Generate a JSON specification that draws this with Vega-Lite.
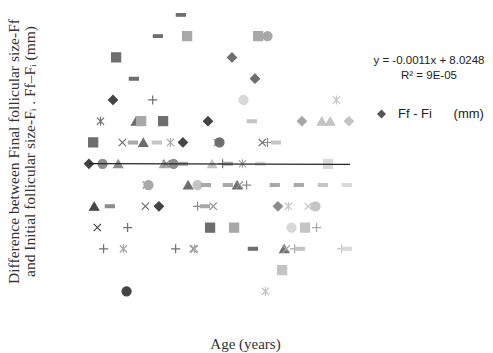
{
  "$schema": "https://vega.github.io/schema/vega-lite/v6.json",
  "width": 340,
  "height": 302,
  "autosize": "none",
  "padding": {"left": 75, "top": 0, "right": 78, "bottom": 51},
  "background": "white",
  "config": {
    "view": {"stroke": null},
    "axis": {"domain": false, "ticks": false, "labels": false, "grid": false}
  },
  "layer": [
    {
      "data": {
        "values": [
          {"age": 28.8, "diff": 15, "m": "dash", "s": "s2"},
          {"age": 26.6, "diff": 14, "m": "dash", "s": "s2"},
          {"age": 29.4, "diff": 14, "m": "square", "s": "s4"},
          {"age": 36.2, "diff": 14, "m": "square", "s": "s4"},
          {"age": 37.1, "diff": 14, "m": "circle", "s": "s4"},
          {"age": 22.6, "diff": 13, "m": "square", "s": "s2"},
          {"age": 33.7, "diff": 13, "m": "diamond", "s": "s2"},
          {"age": 24.3, "diff": 12, "m": "dash", "s": "s2"},
          {"age": 35.9, "diff": 12, "m": "diamond", "s": "s2"},
          {"age": 22.3, "diff": 11, "m": "diamond", "s": "s1"},
          {"age": 26.1, "diff": 11, "m": "plus", "s": "s2"},
          {"age": 34.8, "diff": 11, "m": "circle", "s": "s6"},
          {"age": 43.7, "diff": 11, "m": "star", "s": "s5"},
          {"age": 21.1, "diff": 10, "m": "star", "s": "s2"},
          {"age": 24.5, "diff": 10, "m": "triangle", "s": "s2"},
          {"age": 25.0, "diff": 10, "m": "square", "s": "s4"},
          {"age": 27.1, "diff": 10, "m": "square", "s": "s2"},
          {"age": 31.4, "diff": 10, "m": "diamond", "s": "s1"},
          {"age": 35.6, "diff": 10, "m": "dash", "s": "s5"},
          {"age": 40.4, "diff": 10, "m": "diamond", "s": "s4"},
          {"age": 42.3, "diff": 10, "m": "triangle", "s": "s5"},
          {"age": 43.1, "diff": 10, "m": "triangle", "s": "s5"},
          {"age": 44.9, "diff": 10, "m": "diamond", "s": "s5"},
          {"age": 20.4, "diff": 9, "m": "square", "s": "s2"},
          {"age": 23.2, "diff": 9, "m": "x", "s": "s2"},
          {"age": 24.2, "diff": 9, "m": "dash", "s": "s4"},
          {"age": 25.2, "diff": 9, "m": "triangle", "s": "s2"},
          {"age": 26.5, "diff": 9, "m": "dash", "s": "s5"},
          {"age": 27.8, "diff": 9, "m": "star", "s": "s4"},
          {"age": 29.0, "diff": 9, "m": "diamond", "s": "s1"},
          {"age": 32.3, "diff": 9, "m": "x", "s": "s3"},
          {"age": 32.5, "diff": 9, "m": "circle", "s": "s2"},
          {"age": 36.6, "diff": 9, "m": "x", "s": "s2"},
          {"age": 37.1, "diff": 9, "m": "plus", "s": "s3"},
          {"age": 37.9, "diff": 9, "m": "dash", "s": "s5"},
          {"age": 20.0, "diff": 8, "m": "diamond", "s": "s1"},
          {"age": 21.3, "diff": 8, "m": "circle", "s": "s3"},
          {"age": 22.8, "diff": 8, "m": "triangle", "s": "s3"},
          {"age": 27.2, "diff": 8, "m": "triangle", "s": "s4"},
          {"age": 27.4, "diff": 8, "m": "x", "s": "s3"},
          {"age": 28.1, "diff": 8, "m": "circle", "s": "s3"},
          {"age": 29.0, "diff": 8, "m": "dash", "s": "s4"},
          {"age": 31.8, "diff": 8, "m": "triangle", "s": "s5"},
          {"age": 32.8, "diff": 8, "m": "plus", "s": "s2"},
          {"age": 33.3, "diff": 8, "m": "dash", "s": "s4"},
          {"age": 34.7, "diff": 8, "m": "star", "s": "s4"},
          {"age": 36.4, "diff": 8, "m": "dash", "s": "s6"},
          {"age": 42.9, "diff": 8, "m": "square", "s": "s6"},
          {"age": 25.5, "diff": 7, "m": "x", "s": "s3"},
          {"age": 25.7, "diff": 7, "m": "circle", "s": "s4"},
          {"age": 29.5, "diff": 7, "m": "triangle", "s": "s2"},
          {"age": 30.4, "diff": 7, "m": "circle", "s": "s5"},
          {"age": 31.2, "diff": 7, "m": "dash", "s": "s4"},
          {"age": 33.3, "diff": 7, "m": "dash", "s": "s4"},
          {"age": 34.2, "diff": 7, "m": "triangle", "s": "s2"},
          {"age": 34.4, "diff": 7, "m": "x", "s": "s3"},
          {"age": 35.1, "diff": 7, "m": "plus", "s": "s3"},
          {"age": 37.8, "diff": 7, "m": "dash", "s": "s4"},
          {"age": 40.1, "diff": 7, "m": "dash", "s": "s4"},
          {"age": 42.4, "diff": 7, "m": "dash", "s": "s5"},
          {"age": 44.7, "diff": 7, "m": "dash", "s": "s6"},
          {"age": 20.5, "diff": 6, "m": "triangle", "s": "s1"},
          {"age": 22.0, "diff": 6, "m": "dash", "s": "s3"},
          {"age": 25.4, "diff": 6, "m": "x", "s": "s2"},
          {"age": 26.7, "diff": 6, "m": "diamond", "s": "s1"},
          {"age": 30.4, "diff": 6, "m": "plus", "s": "s3"},
          {"age": 31.1, "diff": 6, "m": "dash", "s": "s4"},
          {"age": 31.9, "diff": 6, "m": "x", "s": "s3"},
          {"age": 38.1, "diff": 6, "m": "diamond", "s": "s3"},
          {"age": 39.1, "diff": 6, "m": "star", "s": "s5"},
          {"age": 41.0, "diff": 6, "m": "x", "s": "s5"},
          {"age": 41.7, "diff": 6, "m": "circle", "s": "s5"},
          {"age": 20.8, "diff": 5, "m": "x", "s": "s1"},
          {"age": 23.7, "diff": 5, "m": "plus", "s": "s2"},
          {"age": 31.6, "diff": 5, "m": "square", "s": "s2"},
          {"age": 33.9, "diff": 5, "m": "square", "s": "s4"},
          {"age": 39.4, "diff": 5, "m": "circle", "s": "s6"},
          {"age": 40.7, "diff": 5, "m": "square", "s": "s5"},
          {"age": 41.8, "diff": 5, "m": "plus", "s": "s4"},
          {"age": 21.4, "diff": 4, "m": "plus", "s": "s2"},
          {"age": 23.3, "diff": 4, "m": "star", "s": "s4"},
          {"age": 28.3, "diff": 4, "m": "plus", "s": "s2"},
          {"age": 30.0, "diff": 4, "m": "x", "s": "s3"},
          {"age": 30.1, "diff": 4, "m": "star", "s": "s4"},
          {"age": 35.7, "diff": 4, "m": "dash", "s": "s2"},
          {"age": 38.7, "diff": 4, "m": "triangle", "s": "s2"},
          {"age": 38.9, "diff": 4, "m": "x", "s": "s4"},
          {"age": 39.7, "diff": 4, "m": "plus", "s": "s4"},
          {"age": 40.2, "diff": 4, "m": "dash", "s": "s5"},
          {"age": 44.2, "diff": 4, "m": "plus", "s": "s5"},
          {"age": 44.7, "diff": 4, "m": "dash", "s": "s6"},
          {"age": 38.5, "diff": 3, "m": "square", "s": "s5"},
          {"age": 23.6, "diff": 2, "m": "circle", "s": "s1"},
          {"age": 36.9, "diff": 2, "m": "star", "s": "s5"}
        ]
      },
      "mark": {"type": "point", "filled": true, "size": 82, "strokeWidth": 1.2, "opacity": 1},
      "encoding": {
        "x": {
          "field": "age", "type": "quantitative",
          "scale": {"domain": [18.66, 51.23], "nice": false, "zero": false},
          "axis": {"title": "Age (years)", "titleFont": "Liberation Serif", "titleFontSize": 15, "titleFontWeight": "normal", "titleColor": "#333333", "titlePadding": 34}
        },
        "y": {
          "field": "diff", "type": "quantitative",
          "scale": {"domain": [1.5, 15.7], "nice": false, "zero": false},
          "axis": {
            "title": ["Difference between Final follicular size-Ff", "and Initial follicular size-Fᵢ . Ff–Fᵢ (mm)"],
            "titleFont": "Liberation Serif", "titleFontSize": 15.5, "titleFontWeight": "normal", "titleColor": "#333333", "titlePadding": 38, "titleLineHeight": 16
          }
        },
        "shape": {
          "field": "m", "type": "nominal",
          "scale": {
            "domain": ["diamond", "square", "triangle", "x", "star", "circle", "plus", "dash"],
            "range": ["diamond", "square", "triangle-up", "M-0.8,-0.8L0.8,0.8M-0.8,0.8L0.8,-0.8", "M-0.8,-0.8L0.8,0.8M-0.8,0.8L0.8,-0.8M0,-1V1", "circle", "M-1,0H1M0,-1V1", "M-1,-0.3H1V0.3H-1Z"]
          },
          "legend": {
            "values": ["diamond"],
            "labelExpr": "'Ff - Fi\u00a0\u00a0\u00a0\u00a0\u00a0\u00a0(mm)'",
            "title": ["y = -0.0011x + 8.0248", "R² = 9E-05"],
            "orient": "none",
            "legendX": 298,
            "legendY": 55,
            "padding": 0,
            "titleFont": "Liberation Sans",
            "titleFontSize": 11.5,
            "titleFontWeight": "normal",
            "titleColor": "#222222",
            "titleAlign": "center",
            "titleAnchor": "middle",
            "titleLineHeight": 15,
            "titlePadding": 26,
            "labelFont": "Liberation Sans",
            "labelFontSize": 13,
            "labelColor": "#222222",
            "labelOffset": 10,
            "symbolSize": 80,
            "symbolFillColor": "#555555",
            "symbolStrokeColor": "#555555",
            "symbolStrokeWidth": 0
          }
        },
        "color": {
          "field": "s", "type": "nominal",
          "scale": {"domain": ["s1", "s2", "s3", "s4", "s5", "s6"], "range": ["#444444", "#6e6e6e", "#8c8c8c", "#a8a8a8", "#c4c4c4", "#d8d8d8"]},
          "legend": null
        },
        "stroke": {
          "field": "s", "type": "nominal",
          "scale": {"domain": ["s1", "s2", "s3", "s4", "s5", "s6"], "range": ["#444444", "#6e6e6e", "#8c8c8c", "#a8a8a8", "#c4c4c4", "#d8d8d8"]},
          "legend": null
        }
      }
    },
    {
      "data": {"values": [{"age": 20, "diff": 8.0028}, {"age": 45, "diff": 7.9753}]},
      "mark": {"type": "line", "color": "#222222", "strokeWidth": 1.3},
      "encoding": {
        "x": {"field": "age", "type": "quantitative"},
        "y": {"field": "diff", "type": "quantitative"}
      }
    }
  ]
}
